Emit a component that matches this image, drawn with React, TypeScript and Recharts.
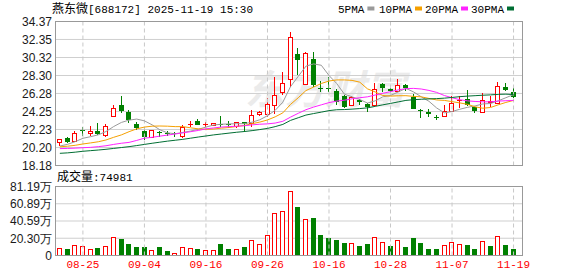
import React from 'react';
import { ComposedChart, Bar, Line, XAxis, YAxis, CartesianGrid, ReferenceLine } from 'recharts';

const dates = [
  '08-20', '08-21', '08-22', '08-25', '08-26', '08-27', '08-28', '08-29', '09-01', '09-02',
  '09-03', '09-04', '09-05', '09-08', '09-09', '09-10', '09-11', '09-12', '09-15', '09-16',
  '09-17', '09-18', '09-19', '09-22', '09-23', '09-24', '09-25', '09-26', '09-29', '09-30',
  '10-09', '10-10', '10-13', '10-14', '10-15', '10-16', '10-17', '10-20', '10-21', '10-22',
  '10-23', '10-24', '10-27', '10-28', '10-29', '10-30', '10-31', '11-03', '11-04', '11-05',
  '11-06', '11-07', '11-10', '11-11', '11-12', '11-13', '11-14', '11-17', '11-18', '11-19',
];

const opens = [
  20.79, 21.24, 20.93, 22.2, 21.87, 22.06, 21.57, 23.71, 24.98, 24.16,
  22.81, 22.02, 21.35, 21.9, 21.87, 21.78, 21.55, 22.8, 23.22, 22.8,
  22.75, 22.85, 22.85, 22.66, 23.04, 22.92, 23.94, 23.94, 24.98, 26.48,
  27.9, 30.68, 27.34, 30.12, 26.9, 26.85, 26.56, 26.03, 24.98, 25.54,
  25.1, 24.95, 27.34, 26.82, 26.56, 27.23, 25.92, 24.45, 24.23, 23.6,
  23.71, 24.34, 25.5, 25.66, 24.72, 24.23, 25.3, 25.17, 27.04, 26.48,
];
const highs = [
  21.15, 21.42, 22.06, 22.47, 22.59, 23.0, 22.81, 24.98, 25.99, 24.45,
  23.1, 22.54, 22.2, 22.06, 22.06, 22.0, 22.7, 23.2, 23.37, 23.1,
  23.0, 23.78, 23.22, 23.1, 23.1, 24.42, 24.31, 25.74, 28.16, 28.73,
  33.15, 31.36, 30.9, 30.9, 27.71, 28.1, 26.78, 26.14, 26.0, 25.62,
  25.17, 27.49, 27.42, 26.93, 27.87, 27.31, 26.22, 24.5, 24.5, 23.86,
  24.98, 26.0, 26.0, 26.67, 24.79, 26.3, 26.0, 27.6, 27.49, 26.86,
];
const lows = [
  20.41, 20.68, 20.9, 21.53, 21.53, 21.61, 21.42, 23.68, 24.12, 22.92,
  22.17, 21.05, 21.24, 21.42, 21.5, 21.4, 21.31, 22.54, 22.7, 22.54,
  22.65, 22.54, 22.36, 22.36, 21.98, 22.54, 23.78, 23.67, 23.94, 26.11,
  27.04, 28.35, 27.2, 27.0, 26.48, 26.48, 24.98, 24.61, 24.87, 24.98,
  24.23, 24.87, 26.48, 26.37, 26.48, 26.56, 24.55, 23.55, 23.67, 23.26,
  23.6, 24.3, 24.61, 24.87, 24.05, 24.2, 24.72, 25.1, 26.59, 25.74,
];
const closes = [
  21.12, 20.86, 21.8, 22.02, 22.06, 21.69, 22.59, 24.61, 24.31, 23.33,
  22.36, 21.42, 22.17, 21.8, 21.69, 21.72, 22.47, 22.9, 22.75, 22.88,
  22.95, 22.8, 22.78, 23.04, 22.81, 23.86, 24.16, 25.06, 26.11, 27.42,
  32.59, 30.04, 30.79, 27.2, 26.85, 26.75, 25.35, 24.79, 25.85, 25.28,
  24.72, 26.75, 26.93, 26.6, 27.23, 26.86, 24.57, 24.4, 23.94, 23.55,
  24.31, 25.24, 25.58, 24.98, 24.34, 25.54, 25.4, 27.12, 26.67, 25.92,
];
const volumes = [
  85000, 73000, 120000, 108000, 73000, 88000, 108000, 214000, 194000, 135000,
  104000, 104000, 61000, 104000, 53000, 33000, 96000, 85000, 76000, 61000,
  61000, 135000, 76000, 73000, 100000, 179000, 132000, 238000, 496000, 520000,
  755000, 571000, 426000, 441000, 241000, 206000, 182000, 147000, 143000, 112000,
  135000, 214000, 155000, 112000, 179000, 100000, 206000, 147000, 76000, 76000,
  120000, 155000, 132000, 124000, 80000, 167000, 112000, 226000, 124000, 74981,
];
const ma5 = [
  20.37, 20.56, 20.86, 21.24, 21.42, 21.63, 22.0, 22.56, 23.02, 23.28,
  23.4, 23.2, 22.75, 22.2, 21.85, 21.75, 21.9, 22.05, 22.25, 22.5,
  22.73, 22.82, 22.85, 22.88, 22.88, 23.05, 23.32, 23.78, 24.38, 25.3,
  27.05, 28.2, 29.35, 29.6, 29.45, 28.3, 27.4, 26.2, 25.9, 25.6,
  25.2, 25.45, 25.9, 26.05, 26.45, 26.85, 26.45, 25.9, 25.4, 24.65,
  24.1, 24.25, 24.5, 24.72, 24.88, 25.1, 25.15, 25.45, 25.8, 26.15,
];
const ma10 = [
  20.28, 20.35, 20.45, 20.6, 20.72, 20.85, 21.05, 21.35, 21.62, 21.98,
  22.3, 22.5, 22.6, 22.62, 22.6, 22.55, 22.55, 22.42, 22.3, 22.25,
  22.28, 22.38, 22.45, 22.57, 22.68, 22.88, 23.06, 23.3, 23.65, 24.1,
  25.05, 25.8, 26.6, 27.0, 27.4, 27.68, 27.8, 27.8, 27.75, 27.55,
  26.8, 26.45, 26.05, 25.98, 26.02, 26.03, 25.95, 25.9, 25.72, 25.55,
  25.5, 25.36, 25.22, 25.06, 24.78, 24.62, 24.7, 25.0, 25.27, 25.5,
];
const ma20 = [
  20.08, 20.1, 20.13, 20.18, 20.22, 20.3, 20.4, 20.55, 20.68, 20.78,
  21.0, 21.25, 21.35, 21.48, 21.6, 21.72, 21.85, 21.98, 22.12, 22.3,
  22.4, 22.5, 22.55, 22.6, 22.65, 22.75, 22.82, 22.86, 22.95, 23.15,
  23.62, 24.05, 24.45, 24.75, 25.0, 25.25, 25.42, 25.52, 25.68, 25.8,
  25.9, 26.1, 26.3, 26.48, 26.68, 26.82, 26.85, 26.78, 26.62, 26.4,
  26.05, 25.8, 25.58, 25.45, 25.38, 25.34, 25.34, 25.42, 25.46, 25.5,
];
const ma30 = [
  19.55, 19.6, 19.68, 19.78, 19.85, 19.92, 20.0, 20.1, 20.2, 20.3,
  20.42, 20.55, 20.68, 20.8, 20.92, 21.02, 21.12, 21.25, 21.38, 21.5,
  21.62, 21.72, 21.82, 21.92, 22.0, 22.1, 22.22, 22.35, 22.55, 22.8,
  23.25, 23.55, 23.85, 24.02, 24.18, 24.35, 24.45, 24.47, 24.52, 24.58,
  24.66, 24.83, 25.0, 25.16, 25.33, 25.5, 25.58, 25.63, 25.67, 25.7,
  25.75, 25.83, 25.92, 25.98, 26.03, 26.08, 26.12, 26.18, 26.2, 26.16,
];

const dateTicks = ['08-25', '09-04', '09-16', '09-26', '10-16', '10-28', '11-07', '11-19'];
const priceTicks = [18.18, 20.2, 22.23, 24.25, 26.28, 28.3, 30.32, 32.35, 34.37];
const volumeTicks = [0, 203000, 405900, 608900, 811900];

const stockTitle = '燕东微';
const stockInfo = '[688172] 2025-11-19 15:30';
const volTitle = '成交量';
const volLast = ':74981';
const watermark = '东方财富';
const legendItems = [
  { name: '5PMA', color: '#9a9a9a' },
  { name: '10PMA', color: '#f5a000' },
  { name: '20PMA', color: '#ff22ff' },
  { name: '30PMA', color: '#006e33' },
];

const RED = '#ff0000';
const GREEN = '#008000';

const data = dates.map((d, i) => ({
  date: d,
  open: opens[i],
  high: highs[i],
  low: lows[i],
  close: closes[i],
  vol: volumes[i],
  volUp: i === 0 ? closes[i] >= opens[i] : closes[i] >= closes[i - 1],
  ma5: ma5[i],
  ma10: ma10[i],
  ma20: ma20[i],
  ma30: ma30[i],
}));

const Candle = (props: any) => {
  const { x, y, width, height, payload } = props;
  if (x == null || y == null || !payload) return null;
  const { open, close, high, low } = payload;
  const top = Math.min(y, y + height);
  const bot = Math.max(y, y + height);
  const span = high - low;
  const py = (v: number) => (span > 0 ? top + ((high - v) / span) * (bot - top) : top);
  const n = Math.floor(x + width / 2);
  const cx = n + 0.5;
  const up = close >= open;
  const hi = Math.round(py(high));
  const lo = Math.round(py(low));
  const bt = Math.round(py(Math.max(open, close)));
  const bb = Math.round(py(Math.min(open, close)));
  if (up) {
    if (bb - bt < 1) {
      return (
        <g>
          <line x1={cx} x2={cx} y1={hi} y2={lo} stroke={RED} strokeWidth={1} />
          <line x1={n - 2} x2={n + 3} y1={bt + 0.5} y2={bt + 0.5} stroke={RED} strokeWidth={1} />
        </g>
      );
    }
    return (
      <g>
        <line x1={cx} x2={cx} y1={hi} y2={bt} stroke={RED} strokeWidth={1} />
        <line x1={cx} x2={cx} y1={bb} y2={lo} stroke={RED} strokeWidth={1} />
        <rect x={n - 1.5} y={bt + 0.5} width={4} height={bb - bt} fill="#fff" stroke={RED} strokeWidth={1} />
      </g>
    );
  }
  return (
    <g>
      <line x1={cx} x2={cx} y1={hi} y2={lo} stroke={GREEN} strokeWidth={1} />
      <rect x={n - 2} y={bt} width={5} height={Math.max(1, bb - bt)} fill={GREEN} />
    </g>
  );
};

const VolBar = (props: any) => {
  const { x, y, width, height, payload } = props;
  if (x == null || y == null || !payload) return null;
  const n = Math.floor(x + width / 2);
  const top = Math.round(Math.min(y, y + height));
  const bot = Math.round(Math.max(y, y + height));
  if (payload.volUp) {
    return <rect x={n - 1.5} y={top + 0.5} width={4} height={Math.max(1, bot - top - 1)} fill="#fff" stroke={RED} strokeWidth={1} />;
  }
  return <rect x={n - 2} y={top} width={5} height={Math.max(1, bot - top)} fill={GREEN} />;
};

const fmtVol = (v: number) => (v === 0 ? '0' : (v / 10000).toFixed(2) + '万');

const axisFont = 'Liberation Sans, Arial, sans-serif';
const monoFont = 'Liberation Mono, DejaVu Sans Mono, monospace';
const cjkFont = 'Noto Sans CJK SC, sans-serif';

export default function App() {
  return (
    <div style={{ position: 'absolute', left: 0, top: 0, width: 578, height: 276, background: '#fff', overflow: 'hidden' }}>
      <svg width={578} height={276} style={{ position: 'absolute', left: 0, top: 0 }}>
        <text x={245} y={104} fontSize={40} fontWeight="bold" fill="#ebebeb" fontFamily={cjkFont} fontStyle="italic">
          {watermark}
        </text>
      </svg>
      <div style={{ position: 'absolute', left: 0, top: 0 }}>
        <ComposedChart width={578} height={178} data={data} margin={{ top: 21.5, right: 56, bottom: 12.5, left: 0 }}>
          <CartesianGrid vertical={false} stroke="#cfcfcf" />
          <XAxis dataKey="date" hide padding={{ left: 0, right: 4.6 }} />
          <YAxis
            domain={[18.18, 34.37]}
            ticks={priceTicks}
            interval={0}
            allowDataOverflow
            width={56}
            axisLine={false}
            tickLine={false}
            tickSize={2}
            tickMargin={2}
            tickFormatter={(v: number) => v.toFixed(2)}
            tick={{ fontSize: 12, fill: '#1a1a1a', fontFamily: axisFont }}
          />
          {dateTicks.map((d) => (
            <ReferenceLine key={d} x={d} stroke="#c8c8c8" strokeDasharray="4 3" />
          ))}
          <Bar dataKey={(d: any) => [d.low, d.high]} shape={<Candle />} barSize={5} isAnimationActive={false} />
          <Line dataKey="ma5" stroke="#9a9a9a" strokeWidth={1} dot={false} activeDot={false} isAnimationActive={false} />
          <Line dataKey="ma10" stroke="#f5a000" strokeWidth={1} dot={false} activeDot={false} isAnimationActive={false} />
          <Line dataKey="ma20" stroke="#ff22ff" strokeWidth={1} dot={false} activeDot={false} isAnimationActive={false} />
          <Line dataKey="ma30" stroke="#006e33" strokeWidth={1} dot={false} activeDot={false} isAnimationActive={false} />
        </ComposedChart>
      </div>
      <div style={{ position: 'absolute', left: 0, top: 0 }}>
        <ComposedChart width={578} height={276} data={data} margin={{ top: 186.5, right: 56, bottom: 0, left: 0 }}>
          <CartesianGrid vertical={false} stroke="#cfcfcf" />
          <XAxis
            dataKey="date"
            ticks={dateTicks}
            interval={0}
            height={20.5}
            axisLine={false}
            tickLine={false}
            tickSize={5}
            tickMargin={0}
            padding={{ left: 0, right: 4.6 }}
            tick={{ fontSize: 11, fill: RED, fontFamily: monoFont }}
          />
          <YAxis
            domain={[0, 811900]}
            ticks={volumeTicks}
            interval={0}
            allowDataOverflow
            width={56}
            axisLine={false}
            tickLine={false}
            tickSize={2}
            tickMargin={2}
            tickFormatter={fmtVol}
            tick={{ fontSize: 12, fill: '#1a1a1a', fontFamily: axisFont }}
          />
          {dateTicks.map((d) => (
            <ReferenceLine key={d} x={d} stroke="#c8c8c8" strokeDasharray="4 3" />
          ))}
          <Bar dataKey="vol" shape={<VolBar />} barSize={5} isAnimationActive={false} />
        </ComposedChart>
      </div>
      <svg width={578} height={276} style={{ position: 'absolute', left: 0, top: 0, pointerEvents: 'none' }}>
        <rect x={55.5} y={21.5} width={467} height={144} fill="none" stroke="#999" />
        <rect x={55.5} y={186.5} width={467} height={69} fill="none" stroke="#999" />
        <text x={52} y={13} fill="#000">
          <tspan fontFamily={cjkFont} fontSize={12}>{stockTitle}</tspan>
          <tspan fontFamily={monoFont} fontSize={11}>{stockInfo}</tspan>
        </text>
        {legendItems.map((it, k) => {
          const starts = [338, 379, 425, 471];
          const x0 = starts[k];
          const tw = it.name.length * 6.6;
          return (
            <g key={it.name}>
              <text x={x0} y={13} fontFamily={monoFont} fontSize={11} fill="#000">{it.name}</text>
              <rect x={x0 + tw + 3} y={6.5} width={7} height={4} fill={it.color} />
            </g>
          );
        })}
        <text x={57} y={181} fill="#000">
          <tspan fontFamily={cjkFont} fontSize={12}>{volTitle}</tspan>
          <tspan fontFamily={monoFont} fontSize={11}>{volLast}</tspan>
        </text>
      </svg>
    </div>
  );
}
